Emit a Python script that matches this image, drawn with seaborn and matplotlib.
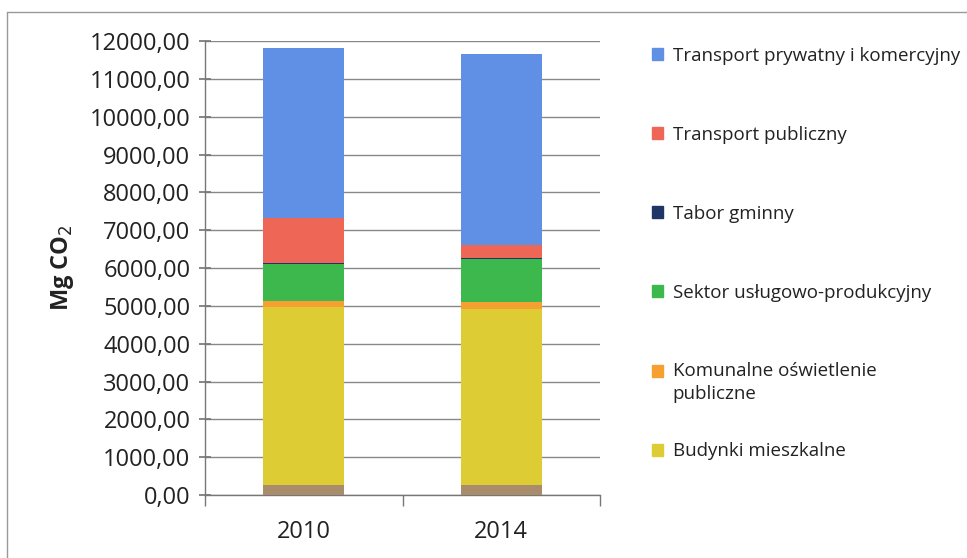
import matplotlib
matplotlib.use("Agg")
import matplotlib.pyplot as plt
import matplotlib.patches as mpatches
from matplotlib.legend_handler import HandlerPatch
import seaborn as sns
import pandas as pd
import numpy as np

years = ["2010", "2014"]
# stacked from bottom to top
series_names = [
    "Budynki użyteczności publicznej",
    "Budynki mieszkalne",
    "Komunalne oświetlenie\npubliczne",
    "Sektor usługowo-produkcyjny",
    "Tabor gminny",
    "Transport publiczny",
    "Transport prywatny i komercyjny",
]
budynki_uzyt = [270, 270]
budynki_mieszk = [4700, 4650]
oswietlenie = [160, 185]
sektor = [980, 1140]
tabor = [30, 30]
transport_publ = [1190, 340]
transport_pryw = [4490, 5050]
values = [budynki_uzyt, budynki_mieszk, oswietlenie, sektor, tabor,
          transport_publ, transport_pryw]
colors = ["#a88c6c", "#ddcc34", "#f5a030", "#3cb84c", "#1f3566",
          "#ee6656", "#5f90e6"]
in_legend = [False, True, True, True, True, True, True]
yticks = list(range(0, 12001, 1000))

sns.set_theme(style="white")
plt.rcParams["font.family"] = ["Open Sans", "DejaVu Sans"]

fig = plt.figure(figsize=(9.67, 5.58), dpi=100)
ax = fig.add_axes([205 / 967, 1 - 495 / 558, 395 / 967, 454 / 558])

df = pd.DataFrame({n: v for n, v in zip(series_names, values)}, index=years)
bottom = np.zeros(len(years))
handles = []
for name, col, leg in zip(series_names, colors, in_legend):
    d = pd.DataFrame({"year": years, "val": df[name].values, "bottom": bottom})
    ax.bar(d["year"], d["val"], bottom=d["bottom"], width=0.41, color=col,
           edgecolor="none", zorder=3)
    bottom = bottom + d["val"].values
    if leg:
        handles.append(mpatches.Patch(color=col, label=name))

ax.set_xlim(-0.5, 1.5)
ax.set_ylim(0, 12000)
ax.set_yticks(yticks)
ax.set_yticklabels([f"{t},00" for t in yticks], fontsize=17, color="#222222")
ax.set_xticks([0, 1])
ax.set_xticklabels(years, fontsize=17, color="#222222")
ax.yaxis.grid(True, color="#888888", linewidth=1.0, zorder=0)
ax.xaxis.grid(False)
for s in ["top", "right"]:
    ax.spines[s].set_visible(False)
for s in ["left", "bottom"]:
    ax.spines[s].set_color("#777777")
    ax.spines[s].set_linewidth(1.0)
ax.tick_params(axis="y", which="major", direction="inout", length=9,
               color="#777777", left=True, pad=6)
ax.tick_params(axis="x", which="major", length=0, pad=18)
# category-boundary tick marks on x axis
ax.set_xticks([-0.5, 0.5, 1.5], minor=True)
ax.tick_params(axis="x", which="minor", direction="out", length=8,
               color="#777777", bottom=True)

ax.set_ylabel("Mg CO$_2$", fontsize=17, fontweight="bold", labelpad=10,
              color="#222222")


def raised_patch(legend, orig_handle, xdescent, ydescent, width, height, fontsize):
    return mpatches.Rectangle((-xdescent, -ydescent + 8.5), width, height)


rev = handles[::-1]
leg1 = fig.legend(handles=rev[:4], labels=[h.get_label() for h in rev[:4]],
                  loc="upper left", bbox_to_anchor=(652 / 967, 1 - 47 / 558),
                  frameon=False, fontsize=13.5, handlelength=0.6,
                  handleheight=0.6, handletextpad=0.5, labelspacing=3.25,
                  borderaxespad=0, borderpad=0)
leg2 = fig.legend(handles=rev[4:], labels=[h.get_label() for h in rev[4:]],
                  loc="upper left", bbox_to_anchor=(652 / 967, 1 - 362 / 558),
                  frameon=False, fontsize=13.5, handlelength=0.6,
                  handleheight=0.6, handletextpad=0.5, labelspacing=2.1,
                  borderaxespad=0, borderpad=0,
                  handler_map={rev[4]: HandlerPatch(patch_func=raised_patch)})
for t in leg2.get_texts():
    t.set_linespacing(1.35)
for lg in (leg1, leg2):
    for t in lg.get_texts():
        t.set_color("#222222")

# chart-area border (top and left edges visible)
fig.add_artist(plt.Line2D([7 / 967, 1], [1 - 12 / 558, 1 - 12 / 558],
                          transform=fig.transFigure, color="#999999", lw=1))
fig.add_artist(plt.Line2D([7 / 967, 7 / 967], [0, 1 - 12 / 558],
                          transform=fig.transFigure, color="#999999", lw=1))

fig.savefig("out.png", dpi=100)
